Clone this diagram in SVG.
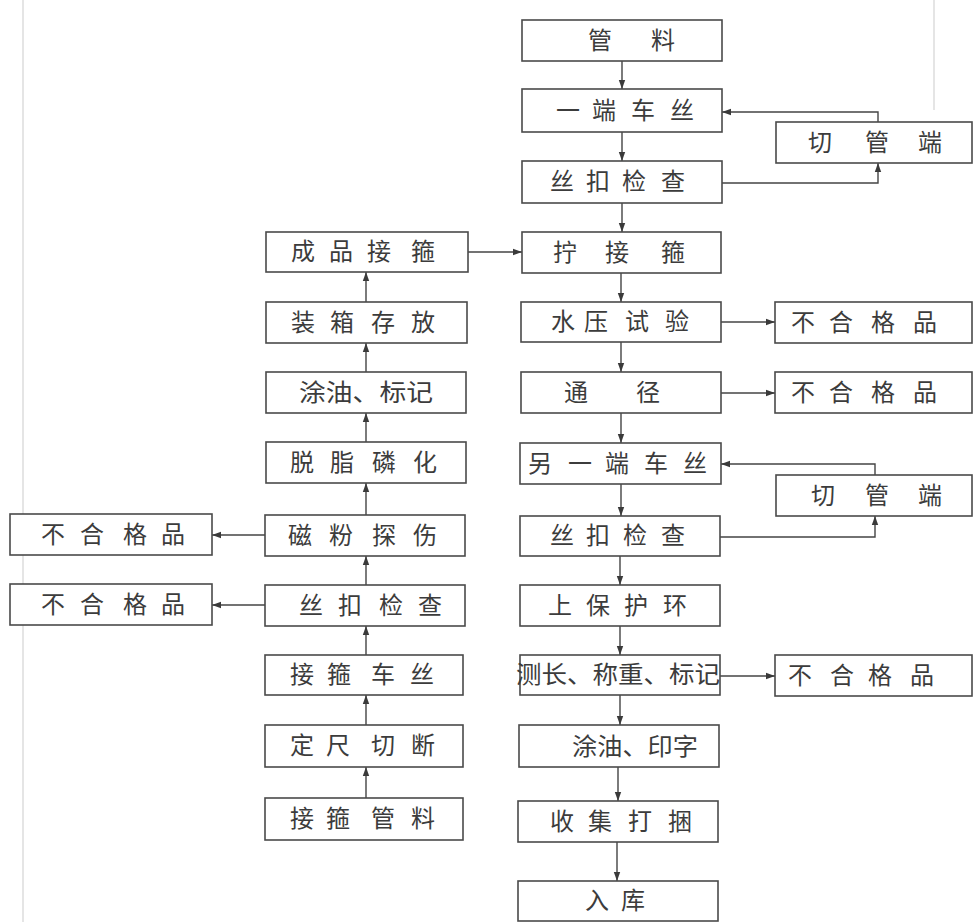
<svg xmlns="http://www.w3.org/2000/svg" width="974" height="922" viewBox="0 0 974 922">
<defs>
<marker id="ah" markerUnits="userSpaceOnUse" markerWidth="10" markerHeight="8" refX="9" refY="4" orient="auto">
<path d="M0,0.8 L9,4 L0,7.2 Z" fill="#3a3a3a"/>
</marker>
</defs>
<style>
.box{fill:#ffffff;stroke:#4a4a4a;stroke-width:1.6}
.t{font-family:"Noto Sans CJK SC","Noto Sans CJK TC",sans-serif;font-size:24px;fill:#3c3c3c;text-anchor:middle}
.tl{font-family:"Noto Sans CJK SC","Noto Sans CJK TC",sans-serif;font-size:24px;fill:#3c3c3c}
.c{fill:none;stroke:#444444;stroke-width:1.4}
.ca{fill:none;stroke:#444444;stroke-width:1.4;marker-end:url(#ah)}
.edge{stroke:#dcdcdc;stroke-width:1.5}
</style>
<rect width="974" height="922" fill="#ffffff"/>
<line class="edge" x1="23" y1="0" x2="23" y2="922"/>
<line class="edge" x1="934" y1="0" x2="934" y2="110"/>

<g id="connectors">
<line class="ca" x1="622" y1="61" x2="622" y2="89"/>
<line class="ca" x1="622" y1="132" x2="622" y2="161"/>
<line class="ca" x1="622" y1="203" x2="622" y2="232"/>
<line class="ca" x1="621" y1="273" x2="621" y2="302"/>
<line class="ca" x1="621" y1="342" x2="621" y2="372"/>
<line class="ca" x1="621" y1="413" x2="621" y2="443"/>
<line class="ca" x1="621" y1="484" x2="621" y2="516"/>
<line class="ca" x1="620" y1="556" x2="620" y2="585"/>
<line class="ca" x1="620" y1="626" x2="620" y2="655"/>
<line class="ca" x1="620" y1="695" x2="620" y2="725"/>
<line class="ca" x1="618" y1="767" x2="618" y2="801"/>
<line class="ca" x1="617" y1="842" x2="617" y2="881"/>

<line class="ca" x1="366" y1="798" x2="366" y2="767"/>
<line class="ca" x1="366" y1="725" x2="366" y2="695"/>
<line class="ca" x1="366" y1="655" x2="366" y2="626"/>
<line class="ca" x1="366" y1="585" x2="366" y2="556"/>
<line class="ca" x1="366" y1="515" x2="366" y2="483"/>
<line class="ca" x1="366" y1="442" x2="366" y2="413"/>
<line class="ca" x1="366" y1="372" x2="366" y2="343"/>
<line class="ca" x1="366" y1="302" x2="366" y2="272"/>

<line class="ca" x1="468" y1="252" x2="522" y2="252"/>
<line class="ca" x1="721" y1="322" x2="775" y2="322"/>
<line class="ca" x1="721" y1="393" x2="775" y2="393"/>
<line class="ca" x1="720" y1="676" x2="775" y2="676"/>
<line class="ca" x1="265" y1="535" x2="212" y2="535"/>
<line class="ca" x1="265" y1="605" x2="212" y2="605"/>

<polyline class="ca" points="722,183 878,183 878,163"/>
<polyline class="ca" points="878,122 878,112 722,112"/>
<polyline class="ca" points="720,537 875,537 875,516"/>
<polyline class="ca" points="875,475 875,464 721,464"/>
</g>

<g id="n-guanliao"><rect class="box" x="522" y="20" width="200" height="41"/><text class="t" x="600 663" y="49">管料</text></g>
<g id="n-yiduanchesi"><rect class="box" x="522" y="89" width="200" height="43"/><text class="t" x="568 604 643 682" y="119">一端车丝</text></g>
<g id="n-sikoujiancha1"><rect class="box" x="522" y="161" width="200" height="42"/><text class="t" x="562 598 634 673" y="190">丝扣检查</text></g>
<g id="n-qieguanduan1"><rect class="box" x="776" y="122" width="196" height="41"/><text class="t" x="820 877 930" y="151">切管端</text></g>
<g id="n-ningjiegu"><rect class="box" x="522" y="232" width="199" height="41"/><text class="t" x="565 617 673" y="261">拧接箍</text></g>
<g id="n-shuiyashiyan"><rect class="box" x="521" y="302" width="200" height="40"/><text class="t" x="563 596 637 677" y="330">水压试验</text></g>
<g id="n-buhege1"><rect class="box" x="775" y="302" width="197" height="41"/><text class="t" x="803 841 883 925" y="331">不合格品</text></g>
<g id="n-tongjing"><rect class="box" x="521" y="372" width="200" height="41"/><text class="t" x="576 648" y="401">通径</text></g>
<g id="n-buhege2"><rect class="box" x="775" y="372" width="197" height="41"/><text class="t" x="803 841 883 925" y="401">不合格品</text></g>
<g id="n-lingyiduan"><rect class="box" x="520" y="443" width="201" height="41"/><text class="t" x="540 580 617 656 695" y="472">另一端车丝</text></g>
<g id="n-qieguanduan2"><rect class="box" x="776" y="475" width="196" height="41"/><text class="t" x="823 877 930" y="504">切管端</text></g>
<g id="n-sikoujiancha2"><rect class="box" x="520" y="516" width="200" height="40"/><text class="t" x="562 598 635 673" y="544">丝扣检查</text></g>
<g id="n-shangbaohuhuan"><rect class="box" x="520" y="585" width="200" height="41"/><text class="t" x="560 598 636 675" y="614">上保护环</text></g>
<g id="n-cechang"><rect class="box" x="520" y="655" width="200" height="40"/><text class="tl" x="516" y="683" textLength="204" lengthAdjust="spacingAndGlyphs">测长、称重、标记</text></g>
<g id="n-buhege3"><rect class="box" x="775" y="655" width="197" height="41"/><text class="t" x="800 842 880 922" y="684">不合格品</text></g>
<g id="n-tuyouyinzi"><rect class="box" x="519" y="725" width="200" height="42"/><text class="tl" x="572" y="755" textLength="126" lengthAdjust="spacingAndGlyphs">涂油、印字</text></g>
<g id="n-shoujidakun"><rect class="box" x="518" y="801" width="200" height="41"/><text class="t" x="562 600 640 680" y="830">收集打捆</text></g>
<g id="n-ruku"><rect class="box" x="518" y="881" width="200" height="40"/><text class="t" x="597 633" y="909">入库</text></g>

<g id="n-chengpinjiegu"><rect class="box" x="266" y="232" width="202" height="40"/><text class="t" x="303 341 379 423" y="260">成品接箍</text></g>
<g id="n-zhuangxiang"><rect class="box" x="266" y="302" width="201" height="41"/><text class="t" x="303 342 383 423" y="331">装箱存放</text></g>
<g id="n-tuyoubiaoji"><rect class="box" x="266" y="372" width="200" height="41"/><text class="tl" x="299" y="401" textLength="134" lengthAdjust="spacingAndGlyphs">涂油、标记</text></g>
<g id="n-tuozhi"><rect class="box" x="266" y="442" width="200" height="41"/><text class="t" x="302 342 384 425" y="471">脱脂磷化</text></g>
<g id="n-cifen"><rect class="box" x="265" y="515" width="200" height="41"/><text class="t" x="300 341 384 425" y="544">磁粉探伤</text></g>
<g id="n-buhege4"><rect class="box" x="10" y="514" width="202" height="41"/><text class="t" x="53 92 135 173" y="543">不合格品</text></g>
<g id="n-sikoujiancha3"><rect class="box" x="265" y="585" width="200" height="41"/><text class="t" x="311 350 391 430" y="614">丝扣检查</text></g>
<g id="n-buhege5"><rect class="box" x="10" y="584" width="202" height="41"/><text class="t" x="53 92 135 173" y="613">不合格品</text></g>
<g id="n-jieguchesi"><rect class="box" x="265" y="655" width="198" height="40"/><text class="t" x="302 339 383 422" y="683">接箍车丝</text></g>
<g id="n-dingchi"><rect class="box" x="265" y="725" width="198" height="42"/><text class="t" x="302 338 383 423" y="754">定尺切断</text></g>
<g id="n-jieguguanliao"><rect class="box" x="265" y="798" width="198" height="42"/><text class="t" x="302 338 383 423" y="827">接箍管料</text></g>
</svg>
